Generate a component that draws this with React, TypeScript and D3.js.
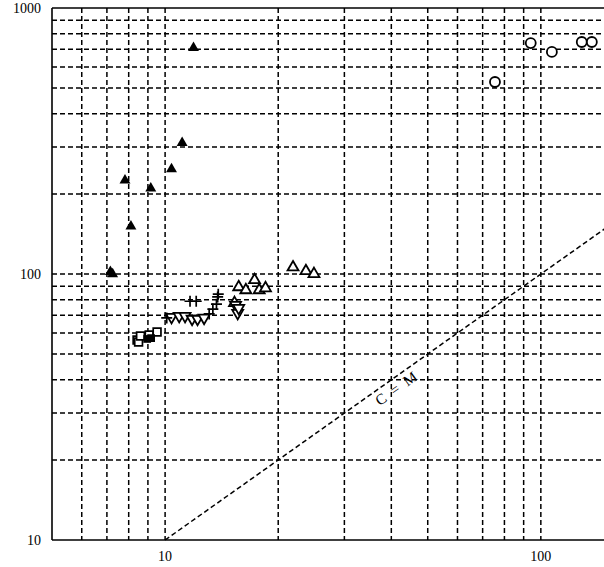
import { useEffect, useRef } from 'react';
import * as d3 from 'd3';

// Log-log scatter, values
const xGridValues = [6, 7, 8, 9, 10, 20, 30, 40, 50, 60, 70, 80, 90, 100];
const yGridValues = [20, 30, 40, 50, 60, 70, 80, 90, 100, 200, 300, 400, 500, 600, 700, 800, 900];
const xTickLabels = [10, 100];
const yTickLabels = [10, 100, 1000];

const filledTriangles = [
  [7.15, 102], [7.25, 100], [7.82, 225], [8.11, 151], [9.16, 210],
  [10.4, 248], [11.1, 311], [11.9, 708],
];
const openCircles = [
  [75.5, 527], [94, 738], [107, 684], [128.5, 745], [136.7, 745],
];
const openSquares = [
  [8.42, 56.5], [8.5, 55.5], [8.6, 58.5], [9.07, 59], [9.52, 60.5],
];
const filledSquares = [
  [8.96, 57], [9.18, 57.4],
];
const plusMarks = [
  [10.1, 68.4], [11.65, 79], [12.1, 79], [13.1, 70.8], [13.4, 73.8],
  [13.7, 77], [13.8, 82], [13.85, 84],
];
const downTriangles = [
  [10.4, 68.9], [10.9, 69.5], [11.3, 69.5], [11.8, 67.8], [12.2, 67.8],
  [12.7, 68.4], [15.4, 76.4], [15.6, 71.3], [15.7, 74.5],
];
const upTriangles = [
  [15.3, 77.8], [15.7, 89.3], [16.4, 87], [17.3, 94.9], [17.8, 87],
  [18.5, 88.5], [21.9, 106], [23.7, 102.6], [24.9, 100],
];
const equalityLine = [10, 150];

export default function App() {
  const svgRef = useRef(null);

  useEffect(() => {
    document.body.style.margin = '0';
    const svg = d3.select(svgRef.current);
    svg.selectAll('*').remove();

    const x = d3.scaleLog().domain([5, 150]).range([52, 607]);
    const y = d3.scaleLog().domain([10, 1000]).range([540, 8]);
    const [x0, x1] = [52, 604];
    const [yb, yt] = [540, 8];
    const font = '"Liberation Serif", "Times New Roman", serif';

    const dash = '5,3';
    const grid = svg.append('g');

    // vertical grid
    grid.selectAll('line.v')
      .data(xGridValues)
      .enter()
      .append('line')
      .attr('x1', d => x(d)).attr('x2', d => x(d))
      .attr('y1', yt).attr('y2', yb)
      .attr('stroke', '#000').attr('stroke-width', 1.5)
      .attr('stroke-dasharray', dash);

    // horizontal grid
    grid.selectAll('line.h')
      .data(yGridValues)
      .enter()
      .append('line')
      .attr('y1', d => y(d)).attr('y2', d => y(d))
      .attr('x1', x0).attr('x2', x1)
      .attr('stroke', '#000').attr('stroke-width', 1.5)
      .attr('stroke-dasharray', dash);

    // frame
    svg.append('line').attr('x1', x0).attr('x2', x0).attr('y1', yt).attr('y2', yb)
      .attr('stroke', '#000').attr('stroke-width', 1.6);
    svg.append('line').attr('x1', x0).attr('x2', x1).attr('y1', yb).attr('y2', yb)
      .attr('stroke', '#000').attr('stroke-width', 1.6);
    svg.append('line').attr('x1', x0).attr('x2', x1).attr('y1', yt).attr('y2', yt)
      .attr('stroke', '#000').attr('stroke-width', 1.6);

    // C = M line
    svg.append('line')
      .attr('x1', x(equalityLine[0])).attr('y1', y(equalityLine[0]))
      .attr('x2', x(equalityLine[1])).attr('y2', y(equalityLine[1]))
      .attr('stroke', '#000').attr('stroke-width', 1.5)
      .attr('stroke-dasharray', dash);

    const angle = Math.atan2(y(100) - y(10), x(100) - x(10)) * 180 / Math.PI;
    const lx = 40;
    svg.append('text')
      .attr('transform', `translate(${x(lx)},${y(lx)}) rotate(${angle})`)
      .attr('dy', 15)
      .attr('text-anchor', 'middle')
      .style('font-family', font)
      .style('font-size', '15px')
      .style('letter-spacing', '2px')
      .text('C = M');

    // axis labels
    svg.selectAll('text.yl')
      .data(yTickLabels)
      .enter()
      .append('text')
      .attr('x', 41)
      .attr('y', d => y(d))
      .attr('dy', '0.35em')
      .attr('text-anchor', 'end')
      .style('font-family', font)
      .style('font-size', '14px')
      .text(d => d);

    svg.selectAll('text.xl')
      .data(xTickLabels)
      .enter()
      .append('text')
      .attr('x', d => x(d))
      .attr('y', 561)
      .attr('text-anchor', 'middle')
      .style('font-family', font)
      .style('font-size', '14px')
      .text(d => d);

    const marks = svg.append('g');
    const tri = d3.symbol().type(d3.symbolTriangle).size(52)();
    const sq = d3.symbol().type(d3.symbolSquare).size(60)();

    marks.selectAll('path.ft')
      .data(filledTriangles).enter().append('path')
      .attr('d', tri)
      .attr('transform', d => `translate(${x(d[0])},${y(d[1])})`)
      .attr('fill', '#000');

    marks.selectAll('path.ut')
      .data(upTriangles).enter().append('path')
      .attr('d', tri)
      .attr('transform', d => `translate(${x(d[0])},${y(d[1])})`)
      .attr('fill', '#fff').attr('stroke', '#000').attr('stroke-width', 1.8);

    marks.selectAll('path.dt')
      .data(downTriangles).enter().append('path')
      .attr('d', tri)
      .attr('transform', d => `translate(${x(d[0])},${y(d[1])}) rotate(180)`)
      .attr('fill', '#fff').attr('stroke', '#000').attr('stroke-width', 1.8);

    marks.selectAll('path.os')
      .data(openSquares).enter().append('path')
      .attr('d', sq)
      .attr('transform', d => `translate(${x(d[0])},${y(d[1])})`)
      .attr('fill', '#fff').attr('stroke', '#000').attr('stroke-width', 1.7);

    marks.selectAll('path.fs')
      .data(filledSquares).enter().append('path')
      .attr('d', sq)
      .attr('transform', d => `translate(${x(d[0])},${y(d[1])})`)
      .attr('fill', '#000');

    marks.selectAll('path.pl')
      .data(plusMarks).enter().append('path')
      .attr('d', 'M-5.5,0H5.5M0,-5.5V5.5')
      .attr('transform', d => `translate(${x(d[0])},${y(d[1])})`)
      .attr('fill', 'none').attr('stroke', '#000').attr('stroke-width', 1.7);

    marks.selectAll('circle.oc')
      .data(openCircles).enter().append('circle')
      .attr('cx', d => x(d[0]))
      .attr('cy', d => y(d[1]))
      .attr('r', 5)
      .attr('fill', '#fff').attr('stroke', '#000').attr('stroke-width', 1.8);
  }, []);

  return (
    <svg ref={svgRef} width={604} height={567} style={{ display: 'block', background: '#fff' }}></svg>
  );
}
